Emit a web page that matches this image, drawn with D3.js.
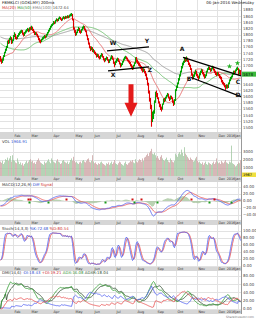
<!DOCTYPE html>
<html>
<head>
<meta charset="utf-8">
<script src="https://cdn.jsdelivr.net/npm/d3@7"></script>
<style>
body { margin: 0; background: #fff; }
svg { display: block; font-family: "DejaVu Sans", sans-serif; }
</style>
</head>
<body>
<svg id="chart" width="256" height="320"></svg>
<script>
// closes before the first visible day (only used to warm up the averages)
var warmup = [1865,1868,1870,1866,1862,1869,1872,1870,1866,1871,
  1872,1875,1870,1868,1866,1872,1870,1865,1860,1858,1862,1855,1850,1852,1848,1845,1850,1846,1843,1848,1846,
  1840,1835,1830,1826,1820,1812,1805,1798,1795,1792,1800,1808,1815,1822,1830,1835,1840,1848,1852,1855,
  1850,1845,1840,1838,1835,1832,1830,1828,1825,1830,1826,1822,1820,1818,1815,1820,1818,1812,1820,
  1810,1800,1795,1780,1770,1760,1745,1730,1720,1700,1680,1672,1690,1705,1720,1735,1740,1748,1752,1758,1761,
  1760,1722,1690,1700,1718,1722,1730,1728];

// daily FBMKLCI, 14 Jan 2015 .. 6 Jan 2016
var closes = [
  1716,1712,1720,1731,1742,1751,1760,1778,1775,1786,1790,1774,1781,
  1795,1801,1790,1788,1796,1800,1806,1809,1812,1804,1798,1805,1810,1814,1818,1812,1821,
  1818,1824,1816,1810,1803,1805,1801,1795,1786,1780,1778,1783,1788,1790,1795,1793,1799,1806,1812,1818,1826,1830,
  1834,1840,1838,1845,1849,1846,1852,1855,1851,1848,1853,1856,1852,1858,1855,1860,1857,1862,1864,1866,1850,1820,
  1812,1800,1806,1815,1820,1810,1808,1816,1822,1826,1818,1812,1798,1786,1772,1760,1752,1758,1747,
  1748,1742,1738,1730,1735,1728,1724,1732,1737,1729,1720,1716,1722,1726,1719,1712,1718,1724,1730,1722,1710,1706,
  1712,1718,1722,1715,1708,1700,1704,1712,1720,1726,1728,1724,1718,1714,1710,1702,1698,1692,1700,1708,1724,
  1718,1712,1706,1702,1696,1690,1684,1688,1680,1672,1660,1642,1618,1590,1572,1532,1534,1548,1585,1612,
  1610,1596,1582,1572,1564,1560,1575,1590,1588,1596,1602,1608,1598,1592,1600,1596,1584,1578,1588,1621,
  1630,1642,1655,1668,1680,1694,1706,1712,1722,1718,1724,1716,1705,1700,1690,1672,1660,1668,1676,1682,1670,
  1665,1660,1672,1680,1686,1676,1670,1664,1668,1680,1688,1694,1690,1684,1690,1696,1688,1680,1675,1672,
  1676,1670,1664,1662,1650,1645,1640,1634,1628,1636,1630,1642,1652,1660,1664,1672,1680,1676,1684,1690,1693,
  1675,1684,1672.64];

var highs = [
  1731,1722,1724,1734,1745,1755,1764,1781,1784,1790,1795,1792,1785,
  1799,1808,1803,1794,1799,1805,1810,1814,1816,1815,1807,1809,1814,1818,1822,1820,1824,
  1826,1829,1826,1819,1813,1809,1808,1803,1797,1789,1784,1787,1792,1795,1799,1798,1803,1809,1816,1822,1829,1834,
  1837,1844,1843,1848,1853,1851,1855,1859,1857,1853,1856,1860,1858,1861,1860,1863,1862,1865,1868,1870,1867,1851,
  1824,1815,1810,1818,1825,1822,1814,1819,1826,1830,1828,1820,1814,1800,1789,1775,1763,1762,1760,
  1754,1750,1745,1740,1739,1737,1731,1735,1741,1739,1731,1724,1725,1730,1728,1721,1721,1727,1734,1732,1724,1713,
  1716,1722,1726,1724,1717,1710,1708,1715,1723,1729,1732,1730,1726,1720,1716,1712,1705,1700,1703,1711,1727,
  1728,1720,1714,1709,1704,1699,1693,1692,1690,1683,1675,1662,1645,1620,1596,1574,1552,1556,1588,1616,
  1620,1612,1598,1585,1576,1568,1578,1594,1596,1600,1606,1612,1610,1600,1604,1603,1598,1588,1592,1624,
  1636,1646,1660,1672,1684,1699,1710,1716,1728,1727,1730,1726,1718,1710,1703,1692,1675,1672,1680,1687,1684,
  1674,1668,1676,1684,1690,1688,1680,1674,1672,1684,1692,1698,1697,1692,1694,1700,1698,1690,1684,1679,
  1680,1679,1673,1668,1664,1654,1648,1644,1638,1640,1639,1646,1656,1664,1668,1676,1684,1684,1688,1694,1697,
  1692,1688,1686];

var lows = [
  1713,1706,1709,1716,1728,1740,1748,1757,1770,1772,1782,1770,1772,
  1779,1792,1786,1784,1786,1793,1798,1803,1806,1800,1794,1796,1803,1807,1811,1808,1810,
  1814,1815,1812,1806,1799,1799,1797,1791,1782,1775,1772,1776,1782,1785,1788,1788,1791,1797,1804,1810,1816,1823,
  1828,1832,1834,1836,1843,1842,1844,1850,1848,1844,1846,1851,1849,1851,1852,1853,1853,1855,1859,1860,1846,1816,
  1806,1796,1798,1805,1812,1806,1803,1806,1814,1819,1814,1808,1795,1782,1768,1756,1747,1750,1744,
  1742,1738,1734,1726,1728,1724,1720,1722,1729,1726,1717,1711,1714,1719,1716,1708,1709,1716,1721,1719,1706,1695,
  1702,1709,1714,1712,1704,1694,1697,1702,1710,1717,1722,1720,1714,1710,1705,1698,1693,1686,1688,1698,1706,
  1710,1706,1700,1697,1690,1684,1678,1680,1675,1666,1654,1636,1610,1584,1560,1503,1518,1528,1545,1580,
  1598,1592,1578,1566,1557,1552,1558,1574,1582,1585,1594,1600,1594,1586,1590,1592,1580,1570,1574,1586,
  1618,1628,1640,1652,1665,1678,1691,1701,1709,1712,1714,1712,1702,1696,1686,1668,1655,1656,1664,1672,1666,
  1660,1654,1658,1669,1677,1672,1665,1658,1660,1666,1678,1686,1686,1680,1682,1688,1684,1676,1670,1666,
  1668,1666,1660,1656,1646,1640,1636,1630,1622,1626,1626,1628,1640,1650,1656,1662,1670,1672,1675,1682,1686,
  1670,1672,1668];

var volumes = [
  1800,1650,1900,1500,1700,2100,2000,2300,1900,2200,2500,1800,2600,
  2000,1900,1700,1600,2200,1800,1500,1700,1400,1600,1300,1500,1700,1900,1600,1800,2000,
  2100,1800,1900,1600,1700,1500,1800,2000,2200,1900,1700,1600,1500,1400,1800,1600,1700,1900,2100,1800,1600,2200,
  2000,1800,1700,1600,1900,2100,1800,1700,1500,1600,1900,2000,1800,1700,1600,1800,1500,1700,2000,2200,1900,2400,
  1900,1700,1800,1600,1500,1700,1800,1600,1900,2000,1800,1700,1900,2100,2200,1800,1700,1900,2600,
  1800,1600,1700,1500,1400,1600,1500,1700,1800,1600,1500,1400,1300,1600,1500,1700,1400,1600,1800,1500,1700,2000,
  1600,1500,1400,1600,1800,1700,1500,1400,1300,1600,1800,1500,1400,1600,1700,1900,1800,2000,1700,1600,2100,
  1800,1700,1900,2100,2000,1800,2200,1900,2300,2400,2600,2800,2500,2900,3100,3400,2800,2700,2900,2600,
  2300,2500,2200,2000,2400,2600,2200,2000,1900,2100,2300,2000,1800,1700,2200,2000,1800,1700,1900,2800,
  2600,2400,2800,3000,2700,3300,2900,2500,3600,2800,2600,2400,2200,2000,2300,2100,2000,1800,1900,2200,2400,
  1900,1700,1800,1600,1500,1700,1400,1600,1800,1500,1400,1700,1600,1500,1400,1600,1800,1500,1700,2200,
  1800,1600,1700,1500,1900,1700,1600,1800,2000,1700,1600,1500,1800,1700,3800,1600,1500,1400,1200,1300,1500,
  1700,1600,1966.91];

var monthStarts = [13, 30, 52, 74, 93, 115, 136, 156, 176, 197, 217, 238];
var monthLabels = ["Feb", "Mar", "Apr", "May", "Jun", "Jul", "Aug", "Sep", "Oct", "Nov", "Dec", "2016Jan"];

var priceTicks = [1500,1520,1540,1560,1580,1600,1620,1640,1660,1680,1700,1720,1740,1760,1780,1800,1820,1840,1860,1880];
var volTicks = [1000, 2000, 3000];
var macdTicks = [-40, -20, 0, 20, 40];
var stochTicks = [0, 20, 40, 60, 80, 100];
var dmiTicks = [0, 20, 40, 60, 80];

// hand drawn trend lines: [day, price, day, price]
var trendLines = [
  [107, 1748, 149, 1761],
  [108, 1683, 149, 1696],
  [183, 1727, 241, 1667],
  [191, 1662, 241, 1600]
];
// annotation letters: [text, day, price]
var letters = [
  ["W", 113, 1766], ["Y", 147, 1772], ["X", 113, 1664], ["Z", 150, 1680],
  ["A", 182, 1746], ["B", 189, 1651], ["C", 238, 1640], ["D", 238, 1598]
];
// big red arrow: [day, top price, bottom price]
var downArrow = [131, 1640, 1535];
// green star markers: [day, price]
var stars = [[229, 1698], [237, 1708]];

var svg = d3.select("#chart");
var plotW = 241;
var n = closes.length;

var x = d3.scaleLinear().domain([0, n]).range([0, plotW]);
var yPrice = d3.scaleLinear().domain([1486, 1912]).range([132, 0]);
var yVol = d3.scaleLinear().domain([0, 4625]).range([176, 139]);
var yMacd = d3.scaleLinear().domain([-54.3, 54.3]).range([220, 182]);
var yStoch = d3.scaleLinear().domain([-2.9, 117.1]).range([267, 225]);
var yDmi = d3.scaleLinear().domain([-2.9, 92.2]).range([310, 271]);

// ---- indicators ----
function sma(arr, len) {
  return arr.map(function(v, i) {
    if (i < len - 1) return null;
    var s = 0;
    for (var j = i - len + 1; j <= i; j++) s += arr[j];
    return s / len;
  });
}
function smaLoose(arr, len) {
  return arr.map(function(v, i) {
    var a = Math.max(0, i - len + 1), s = 0;
    for (var j = a; j <= i; j++) s += arr[j];
    return s / (i - a + 1);
  });
}
function ema(arr, len) {
  var k = 2 / (len + 1), prev, out = [];
  arr.forEach(function(v, i) {
    prev = i == 0 ? v : prev + k * (v - prev);
    out.push(prev);
  });
  return out;
}
function wilder(arr, len) {
  var prev, out = [];
  arr.forEach(function(v, i) {
    prev = i == 0 ? v : prev + (v - prev) / len;
    out.push(prev);
  });
  return out;
}

var full = warmup.concat(closes);
var off = warmup.length;
var ma20 = sma(full, 20).slice(off);
var ma50 = sma(full, 50).slice(off);
var ema100 = ema(full, 100).slice(off);

var e12 = ema(full, 12), e26 = ema(full, 26);
var diffFull = e12.map(function(v, i) { return v - e26[i]; });
var sigFull = ema(diffFull, 9);
var macdDiff = diffFull.slice(off);
var macdSig = sigFull.slice(off);

var rawK = closes.map(function(c, i) {
  var a = Math.max(0, i - 13);
  var hh = d3.max(highs.slice(a, i + 1)), ll = d3.min(lows.slice(a, i + 1));
  return hh == ll ? 50 : (c - ll) / (hh - ll) * 100;
});
var stochK = smaLoose(rawK, 3);
var stochD = smaLoose(stochK, 3);

var prevClose = [warmup[warmup.length - 1]].concat(closes.slice(0, n - 1));
var tr = [], pdm = [], mdm = [];
for (var i = 0; i < n; i++) {
  var h = highs[i], l = lows[i], pc = prevClose[i];
  tr.push(Math.max(h - l, Math.abs(h - pc), Math.abs(l - pc)));
  if (i == 0) { pdm.push(0); mdm.push(0); continue; }
  var up = h - highs[i - 1], dn = lows[i - 1] - l;
  pdm.push(up > dn && up > 0 ? up : 0);
  mdm.push(dn > up && dn > 0 ? dn : 0);
}
var sTr = wilder(tr, 14), sP = wilder(pdm, 14), sM = wilder(mdm, 14);
var plusDI = sP.map(function(v, i) { return 100 * v / sTr[i]; });
var minusDI = sM.map(function(v, i) { return 100 * v / sTr[i]; });
var dx = plusDI.map(function(v, i) {
  var s = v + minusDI[i];
  return s == 0 ? 0 : 100 * Math.abs(v - minusDI[i]) / s;
});
var adx = wilder(dx, 6);
var adxr = adx.map(function(v, i) { return i < 6 ? v : (v + adx[i - 6]) / 2; });

// ---- frame ----
svg.append("rect").attr("width", 256).attr("height", 320).attr("fill", "#fff");

var lastY = yPrice(closes[n - 1]);

var panels = [
  { top: 0, bottom: 132, y: yPrice, ticks: priceTicks, fmt: function(d) { return d; }, strip: [132, 139], skip: lastY },
  { top: 139, bottom: 176, y: yVol, ticks: volTicks, fmt: function(d) { return d; }, strip: [176, 182] },
  { top: 182, bottom: 220, y: yMacd, ticks: macdTicks, fmt: d3.format(".2f"), strip: [220, 225] },
  { top: 225, bottom: 267, y: yStoch, ticks: stochTicks, fmt: d3.format(".2f"), strip: [267, 271] },
  { top: 271, bottom: 310, y: yDmi, ticks: dmiTicks, fmt: d3.format(".2f"), strip: [310, 314] }
];

panels.forEach(function(p) {
  var g = svg.append("g");
  g.selectAll("line.h").data(p.ticks).enter().append("line")
    .attr("x1", 0).attr("x2", plotW)
    .attr("y1", function(d) { return Math.round(p.y(d)) + 0.5; })
    .attr("y2", function(d) { return Math.round(p.y(d)) + 0.5; })
    .attr("stroke", "#e2e2e2").attr("stroke-width", 1);
  g.selectAll("line.v").data(monthStarts).enter().append("line")
    .attr("x1", function(d) { return Math.round(x(d)) + 0.5; })
    .attr("x2", function(d) { return Math.round(x(d)) + 0.5; })
    .attr("y1", p.top).attr("y2", p.bottom)
    .attr("stroke", "#e2e2e2").attr("stroke-width", 1);
  // labels hidden under the last-value box are left out
  var shown = p.ticks.filter(function(d) { return p.skip == null || Math.abs(p.y(d) - p.skip) > 4; });
  g.selectAll("text.tick").data(shown).enter().append("text")
    .attr("x", 243).attr("y", function(d) { return p.y(d) + 1.4; })
    .attr("font-size", 3.9).attr("fill", "#444")
    .text(p.fmt);
  // date strip
  g.append("rect").attr("x", 0).attr("y", p.strip[0]).attr("width", plotW)
    .attr("height", p.strip[1] - p.strip[0]).attr("fill", "#d6d6d6");
  g.selectAll("text.m").data(monthStarts).enter().append("text")
    .attr("x", function(d, i) { return i == monthStarts.length - 1 ? plotW - 0.5 : x(d) + 1.5; })
    .attr("text-anchor", function(d, i) { return i == monthStarts.length - 1 ? "end" : "start"; })
    .attr("y", (p.strip[0] + p.strip[1]) / 2 + 1.3)
    .attr("font-size", 3.4).attr("fill", "#333")
    .text(function(d, i) { return monthLabels[i]; });
});

svg.append("line").attr("x1", plotW + 0.5).attr("x2", plotW + 0.5).attr("y1", 0).attr("y2", 314)
  .attr("stroke", "#999");

// ---- price panel ----
var idx = d3.range(n);
function lineOf(arr, ys) {
  return d3.line().defined(function(i) { return arr[i] != null; })
    .x(function(i) { return x(i) + 0.5; }).y(function(i) { return ys(arr[i]); })(idx);
}
svg.append("path").attr("d", lineOf(ema100, yPrice)).attr("fill", "none").attr("stroke", "#9a9a9a").attr("stroke-width", 0.9);
svg.append("path").attr("d", lineOf(ma50, yPrice)).attr("fill", "none").attr("stroke", "#6cbf6c").attr("stroke-width", 0.9);
svg.append("path").attr("d", lineOf(ma20, yPrice)).attr("fill", "none").attr("stroke", "#e87070").attr("stroke-width", 0.9);

svg.append("g").selectAll("line").data(idx).enter().append("line")
  .attr("x1", function(i) { return x(i) + 0.5; })
  .attr("x2", function(i) { return x(i) + 0.5; })
  .attr("y1", function(i) { return yPrice(highs[i]); })
  .attr("y2", function(i) { return yPrice(lows[i]); })
  .attr("stroke", function(i) { return closes[i] >= prevClose[i] ? "#00a000" : "#e00000"; })
  .attr("stroke-width", 1.1);

// trend lines and letters
svg.append("g").selectAll("line").data(trendLines).enter().append("line")
  .attr("x1", function(d) { return x(d[0]); }).attr("y1", function(d) { return yPrice(d[1]); })
  .attr("x2", function(d) { return x(d[2]); }).attr("y2", function(d) { return yPrice(d[3]); })
  .attr("stroke", "#000").attr("stroke-width", 1.2);
svg.append("g").selectAll("text").data(letters).enter().append("text")
  .attr("x", function(d) { return x(d[1]); }).attr("y", function(d) { return yPrice(d[2]); })
  .attr("text-anchor", "middle").attr("font-size", 6).attr("font-weight", "bold").attr("fill", "#111")
  .text(function(d) { return d[0]; });

svg.append("g").selectAll("path").data(stars).enter().append("path")
  .attr("d", d3.symbol().type(d3.symbolStar).size(9))
  .attr("transform", function(d) { return "translate(" + (x(d[0]) + 0.5) + "," + yPrice(d[1]) + ")"; })
  .attr("fill", "#22b022");

var ax = x(downArrow[0]), at = yPrice(downArrow[1]), ab = yPrice(downArrow[2]);
var headTop = ab - 14;
svg.append("path")
  .attr("d", "M" + (ax - 2.5) + "," + at + "L" + (ax + 2.5) + "," + at + "L" + (ax + 2.5) + "," + headTop +
    "L" + (ax + 6.5) + "," + headTop + "L" + ax + "," + ab + "L" + (ax - 6.5) + "," + headTop +
    "L" + (ax - 2.5) + "," + headTop + "Z")
  .attr("fill", "#e41a1a");

// last price box
svg.append("rect").attr("x", 242).attr("y", lastY - 2.5).attr("width", 14).attr("height", 5).attr("fill", "#3cb83c");
svg.append("text").attr("x", 243).attr("y", lastY + 1.4).attr("font-size", 3.9).attr("fill", "#000")
  .text(Math.round(closes[n - 1]));

// ---- volume ----
svg.append("g").selectAll("rect").data(idx).enter().append("rect")
  .attr("x", function(i) { return x(i) + 0.1; })
  .attr("width", 0.8)
  .attr("y", function(i) { return yVol(volumes[i]); })
  .attr("height", function(i) { return yVol(0) - yVol(volumes[i]); })
  .attr("fill", function(i) { return closes[i] >= prevClose[i] ? "#a3c8a3" : "#cda5a5"; });
// value box sits at the foot of the volume axis
svg.append("rect").attr("x", 242).attr("y", 172.5).attr("width", 14).attr("height", 4.5).attr("fill", "#f0e040");
svg.append("text").attr("x", 243).attr("y", 176).attr("font-size", 3.6).attr("fill", "#000")
  .text(Math.round(volumes[n - 1]));

// ---- MACD ----
var hist = macdDiff.map(function(v, i) { return v - macdSig[i]; });
svg.append("g").selectAll("rect").data(idx).enter().append("rect")
  .attr("x", function(i) { return x(i) + 0.1; }).attr("width", 0.8)
  .attr("y", function(i) { return Math.min(yMacd(hist[i]), yMacd(0)); })
  .attr("height", function(i) { return Math.abs(yMacd(hist[i]) - yMacd(0)); })
  .attr("fill", "#a9c7a0");
svg.append("path").attr("d", lineOf(macdSig, yMacd)).attr("fill", "none").attr("stroke", "#e85050").attr("stroke-width", 0.8);
svg.append("path").attr("d", lineOf(macdDiff, yMacd)).attr("fill", "none").attr("stroke", "#5060f0").attr("stroke-width", 0.8);
var crosses = idx.filter(function(i) { return i > 0 && (hist[i] > 0) != (hist[i - 1] > 0); });
svg.append("g").selectAll("rect").data(crosses).enter().append("rect")
  .attr("x", function(i) { return x(i) - 0.5; }).attr("width", 2).attr("height", 2)
  .attr("y", function(i) { return hist[i] > 0 ? yMacd(0) + 0.5 : yMacd(0) - 2.5; })
  .attr("fill", function(i) { return hist[i] > 0 ? "#1a9a1a" : "#d01010"; });

// ---- stochastics ----
svg.append("path").attr("d", lineOf(stochD, yStoch)).attr("fill", "none").attr("stroke", "#e85050").attr("stroke-width", 0.8);
svg.append("path").attr("d", lineOf(stochK, yStoch)).attr("fill", "none").attr("stroke", "#5060f0").attr("stroke-width", 0.8);

// ---- DMI ----
svg.append("path").attr("d", lineOf(adxr, yDmi)).attr("fill", "none").attr("stroke", "#2d4d2d").attr("stroke-width", 0.8);
svg.append("path").attr("d", lineOf(adx, yDmi)).attr("fill", "none").attr("stroke", "#33a033").attr("stroke-width", 0.8);
svg.append("path").attr("d", lineOf(minusDI, yDmi)).attr("fill", "none").attr("stroke", "#5060f0").attr("stroke-width", 0.8);
svg.append("path").attr("d", lineOf(plusDI, yDmi)).attr("fill", "none").attr("stroke", "#e85050").attr("stroke-width", 0.8);

// ---- header texts ----
function legend(yPos, parts) {
  var t = svg.append("text").attr("x", 2).attr("y", yPos).attr("font-size", 3.9);
  parts.forEach(function(p) {
    t.append("tspan").attr("fill", p[1]).text(p[0] + "  ");
  });
}
legend(4, [["FBMKLCI (GOKLMY)", "#222"], ["200ma", "#222"]]);
legend(9, [["MA(20)", "#d03030"], ["MA(50)", "#309030"], ["EMA(100)", "#808080"], [closes[n - 1].toFixed(2), "#555"]]);
legend(143, [["VOL", "#333"], [volumes[n - 1].toFixed(2), "#3050d0"]]);
legend(185.5, [["MACD(12,26,9)", "#333"], ["Diff", "#3050d0"], ["Signal", "#d03030"]]);
legend(229.5, [["Stoch(14,3,3)", "#333"], ["%K:" + stochK[n - 1].toFixed(2), "#3050d0"], ["%D:" + stochD[n - 1].toFixed(2), "#d03030"]]);
legend(274, [["DMI(14,6)", "#333"], ["-DI:" + minusDI[n - 1].toFixed(2), "#3050d0"], ["+DI:" + plusDI[n - 1].toFixed(2), "#d03030"],
  ["ADX:" + adx[n - 1].toFixed(2), "#309030"], ["ADXR:" + adxr[n - 1].toFixed(2), "#2d4d2d"]]);
svg.append("text").attr("x", 254).attr("y", 4).attr("text-anchor", "end").attr("font-size", 3.9).attr("fill", "#222")
  .text("06-Jan-2016 Wednesday");
svg.append("text").attr("x", 254).attr("y", 318).attr("text-anchor", "end").attr("font-size", 3).attr("fill", "#777")
  .text("ShareInvestor.com");
</script>
</body>
</html>
